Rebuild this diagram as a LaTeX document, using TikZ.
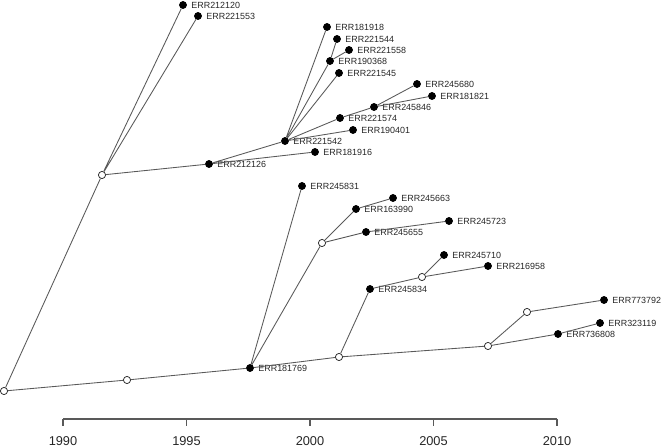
\documentclass[tikz,border=0pt]{standalone}
\usepackage{fontspec}
\setmainfont{Liberation Sans}
\begin{document}
\begin{tikzpicture}[
    x=0.75pt, y=-0.75pt,
    leaf/.style={circle, fill=black, draw=black, inner sep=0pt, minimum size=5.4pt},
    hidden/.style={circle, fill=white, draw=black!85, line width=0.55pt, inner sep=0pt, minimum size=5.4pt},
    tag/.style={font=\fontsize{6.7}{7}\selectfont, text=black!85, inner sep=0pt},
    every label/.style={tag},
    label distance=3.2pt,
    edge/.style={draw=black!65, line width=0.65pt},
]
    \useasboundingbox (0,0) rectangle (661,448);

    % Backbone
    \node[hidden] (root) at (4,391) {};
    \node[hidden] (anc1) at (127,380) {};
    \node[leaf, label=right:ERR181769] (e181769) at (250,368) {};
    \node[hidden] (anc2) at (339,357) {};
    \node[hidden] (anc3) at (488,346) {};
    \node[hidden] (anc4) at (527,312) {};
    \node[leaf, label=right:ERR773792] (e773792) at (604,300) {};
    \node[leaf, label=right:ERR323119] (e323119) at (600,323) {};
    \node[leaf, label=right:ERR736808] (e736808) at (558,334) {};

    % Upper clade
    \node[hidden] (up) at (102,175) {};
    \node[leaf, label=right:ERR212120] (e212120) at (183,5) {};
    \node[leaf, label=right:ERR221553] (e221553) at (198,16) {};
    \node[leaf, label=right:ERR212126] (e212126) at (209,164) {};
    \node[leaf, label=right:ERR181916] (e181916) at (315,152) {};
    \node[leaf, label=right:ERR221542] (e221542) at (285,141) {};
    \node[leaf, label=right:ERR181918] (e181918) at (327,27) {};
    \node[leaf, label=right:ERR221544] (e221544) at (337,39) {};
    \node[leaf, label=right:ERR221558] (e221558) at (349,50) {};
    \node[leaf, label=right:ERR190368] (e190368) at (330,61) {};
    \node[leaf, label=right:ERR221545] (e221545) at (339,73) {};
    \node[leaf, label=right:ERR245680] (e245680) at (417,84) {};
    \node[leaf, label=right:ERR181821] (e181821) at (432,96) {};
    \node[leaf, label=right:ERR245846] (e245846) at (374,107) {};
    \node[leaf, label=right:ERR221574] (e221574) at (340,118) {};
    \node[leaf, label=right:ERR190401] (e190401) at (353,130) {};

    % Lower clade
    \node[leaf, label=right:ERR245831] (e245831) at (302,186) {};
    \node[hidden] (anc5) at (322,243) {};
    \node[leaf, label=right:ERR163990] (e163990) at (356,209) {};
    \node[leaf, label=right:ERR245663] (e245663) at (393,198) {};
    \node[leaf, label=right:ERR245655] (e245655) at (366,232) {};
    \node[leaf, label=right:ERR245723] (e245723) at (449,221) {};
    \node[leaf, label=right:ERR245834] (e245834) at (370,289) {};
    \node[hidden] (anc6) at (422,277) {};
    \node[leaf, label=right:ERR245710] (e245710) at (444,255) {};
    \node[leaf, label=right:ERR216958] (e216958) at (488,266) {};

    % Branches
    \draw[edge] (root) -- (anc1) (anc1) -- (e181769) (e181769) -- (anc2) (anc2) -- (anc3);
    \draw[edge] (anc3) -- (e736808) (e736808) -- (e323119) (anc3) -- (anc4) (anc4) -- (e773792);
    \draw[edge] (root) -- (up) (up) -- (e212120) (up) -- (e221553) (up) -- (e212126);
    \draw[edge] (e212126) -- (e221542) (e212126) -- (e181916);
    \draw[edge] (e221542) -- (e181918) (e221542) -- (e190368) (e190368) -- (e221544) (e190368) -- (e221558);
    \draw[edge] (e221542) -- (e221545) (e221542) -- (e221574) (e221542) -- (e190401);
    \draw[edge] (e221574) -- (e245846) (e245846) -- (e245680) (e245846) -- (e181821);
    \draw[edge] (e181769) -- (e245831) (e181769) -- (anc5);
    \draw[edge] (anc5) -- (e163990) (e163990) -- (e245663) (anc5) -- (e245655) (e245655) -- (e245723);
    \draw[edge] (anc2) -- (e245834) (e245834) -- (anc6) (anc6) -- (e245710) (anc6) -- (e216958);

    % Time axis
    \draw[draw=black!65, line width=0.9pt] (63,419) -- (557,419);
    \foreach \yr [count=\i from 0] in {1990,1995,2000,2005,2010} {
        \draw[draw=black!65, line width=0.9pt] (63+123.5*\i,419) -- ++(0,7);
        \node[font=\fontsize{9.6}{11}\selectfont, text=black!85] (yr\yr) at (63+123.5*\i,441) {\yr};
    }
\end{tikzpicture}
\end{document}
